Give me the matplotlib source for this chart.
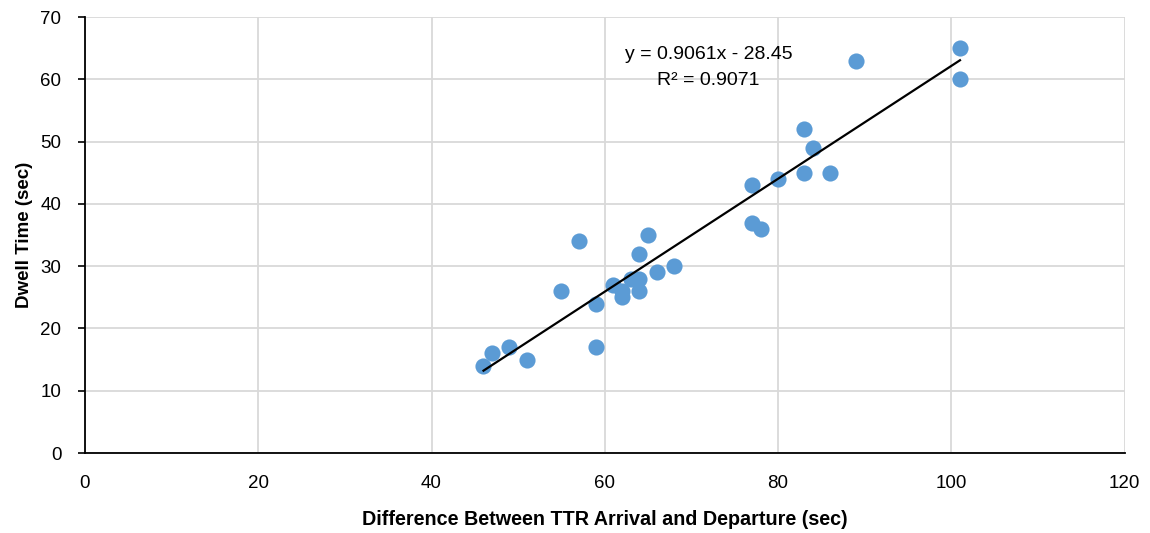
import numpy as np
import matplotlib.pyplot as plt

plt.rcParams['font.family'] = ['Liberation Sans', 'DejaVu Sans']

# TTR arrival/departure difference (sec) vs dwell time (sec)
diff_sec = [65, 57, 64, 68, 66, 63, 64, 61, 62, 64, 62, 55, 59, 59, 49, 47, 51, 46,
            101, 89, 101, 83, 84, 77, 80, 83, 86, 77, 78]
dwell_sec = [35, 34, 32, 30, 29, 28, 28, 27, 26, 26, 25, 26, 24, 17, 17, 16, 15, 14,
             65, 63, 60, 52, 49, 43, 44, 45, 45, 37, 36]

x_ticks = [0, 20, 40, 60, 80, 100, 120]
y_ticks = [0, 10, 20, 30, 40, 50, 60, 70]

x = np.array(diff_sec)
y = np.array(dwell_sec)
m, b = np.polyfit(x, y, 1)

fig = plt.figure(figsize=(11.5, 5.33), dpi=100)
ax = fig.add_axes([0.0739, 0.150, 0.904, 0.818])

ax.grid(True, color='#d9d9d9', linewidth=1.3)
ax.set_axisbelow(True)
ax.scatter(x, y, s=135, color='#5b9bd5', zorder=3, linewidths=0)
xs = np.array([x.min(), x.max()])
ax.plot(xs, m * xs + b, color='black', linewidth=1.6, zorder=4)

ax.text(72, 64, 'y = 0.9061x - 28.45', ha='center', va='center', fontsize=14)
ax.text(72, 59.8, 'R² = 0.9071', ha='center', va='center', fontsize=14)

ax.set_xlim(0, 120)
ax.set_ylim(0, 70)
ax.set_xticks(x_ticks)
ax.set_yticks(y_ticks)
ax.tick_params(axis='both', labelsize=13.5, colors='black')
ax.tick_params(axis='x', length=0, pad=16)
ax.tick_params(axis='y', length=5, width=1.2, pad=12)
for s in ['top', 'right']:
    ax.spines[s].set_visible(False)
for s in ['left', 'bottom']:
    ax.spines[s].set_color('black')
    ax.spines[s].set_linewidth(1.3)

ax.set_xlabel('Difference Between TTR Arrival and Departure (sec)', fontsize=14.2,
              fontweight='bold', labelpad=13)
ax.set_ylabel('Dwell Time (sec)', fontsize=13.5, fontweight='bold', labelpad=5)

fig.savefig('out.png', dpi=100)
